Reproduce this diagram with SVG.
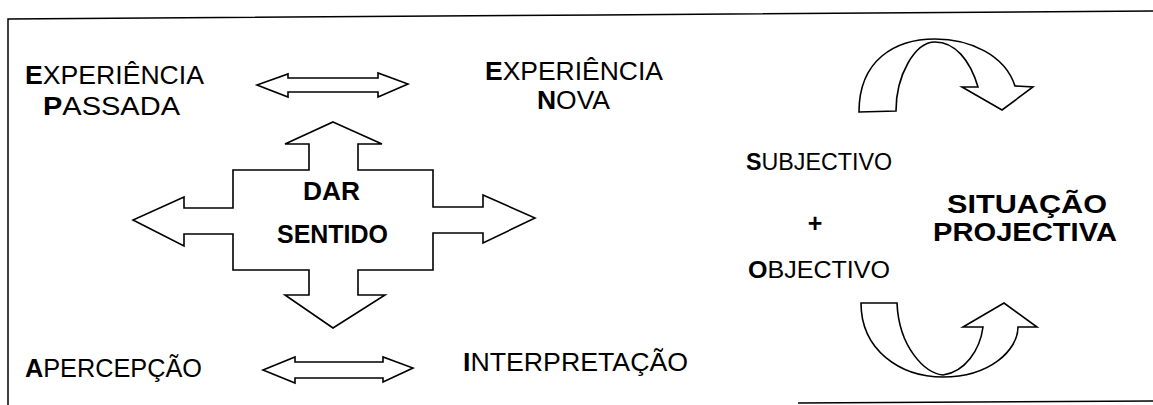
<svg xmlns="http://www.w3.org/2000/svg" width="1153" height="405" viewBox="0 0 1153 405">
<style>
.shape{fill:#fff;stroke:#000;stroke-width:1.6;stroke-linejoin:miter}
.frame{fill:none;stroke:#000;stroke-width:1.5}
text{font-family:"Liberation Sans",Arial,sans-serif;fill:#000}
.r{font-size:26px}
.s{font-size:24px}
.bt{font-size:25px;font-weight:bold}
.b{font-weight:bold}
</style>
<rect width="1153" height="405" fill="#fff"/>
<g id="frame">
<polyline class="frame" points="8,405 8,19 600,15 1153,11"/>
<line class="frame" x1="798" y1="403" x2="1153" y2="401" stroke="#444"/>
</g>
<g id="connectors">
<polygon id="arrow-top" class="shape" points="257,85 288,74 288,78 378,78 378,73 408,84 378,97 378,92 288,92 288,97"/>
<polygon id="arrow-bottom" class="shape" points="263,370 295,357 295,362 383,362 383,357 413,368 383,382 383,378 295,378 295,383"/>
<path id="curve-top" class="shape" d="M859,112 C859,60 895,39 935,39 C970,39 1005,55 1015,86 L1033,87 L1002,110 L962,87 L978,87 C970,60 955,42 935,42 C915,42 896,75 896,111 Z"/>
<path id="curve-bottom" class="shape" d="M861,303 C861,350 900,377 943,377 C990,377 1018,350 1018,327 L1037,327 L1004,303 L963,327 L983,327 C980,350 965,372 943,375 C925,373 899,348 897,303 Z"/>
</g>
<g id="node-dar-sentido">
<polygon class="shape" points="333,122 382,144 358,144 358,170 433,170 433,207 483,207 483,195 535,218 483,243 483,233 433,233 433,270 358,270 358,295 385,295 333,328 285,295 309,295 309,270 233,270 233,234 184,234 184,246 133,220 184,197 184,208 233,208 233,170 309,170 309,144 285,144"/>
<text class="bt" x="303" y="200" textLength="57" lengthAdjust="spacingAndGlyphs">DAR</text>
<text class="bt" x="277" y="243" textLength="111" lengthAdjust="spacingAndGlyphs">SENTIDO</text>
</g>
<g id="node-experiencia-passada">
<text class="r" x="25" y="84" textLength="179" lengthAdjust="spacingAndGlyphs"><tspan class="b">E</tspan>XPERIÊNCIA</text>
<text class="r" x="43" y="115" textLength="137" lengthAdjust="spacingAndGlyphs"><tspan class="b">P</tspan>ASSADA</text>
</g>
<g id="node-experiencia-nova">
<text class="r" x="485" y="80" textLength="178" lengthAdjust="spacingAndGlyphs"><tspan class="b">E</tspan>XPERIÊNCIA</text>
<text class="r" x="537" y="109" textLength="73" lengthAdjust="spacingAndGlyphs"><tspan class="b">N</tspan>OVA</text>
</g>
<g id="node-apercepcao">
<text class="r" x="25" y="377" textLength="177" lengthAdjust="spacingAndGlyphs"><tspan class="b">A</tspan>PERCEPÇÃO</text>
</g>
<g id="node-interpretacao">
<text class="r" x="463" y="371" textLength="225" lengthAdjust="spacingAndGlyphs"><tspan class="b">I</tspan>NTERPRETAÇÃO</text>
</g>
<g id="node-subjectivo-objectivo">
<text class="s" x="746" y="170" textLength="146" lengthAdjust="spacingAndGlyphs"><tspan class="b">S</tspan>UBJECTIVO</text>
<text class="bt" x="815" y="232" text-anchor="middle">+</text>
<text class="s" x="748" y="278" textLength="142" lengthAdjust="spacingAndGlyphs"><tspan class="b">O</tspan>BJECTIVO</text>
</g>
<g id="node-situacao-projectiva">
<text class="bt" x="947" y="213" textLength="160" lengthAdjust="spacingAndGlyphs">SITUAÇÃO</text>
<text class="bt" x="933" y="241" textLength="184" lengthAdjust="spacingAndGlyphs">PROJECTIVA</text>
</g>
</svg>
